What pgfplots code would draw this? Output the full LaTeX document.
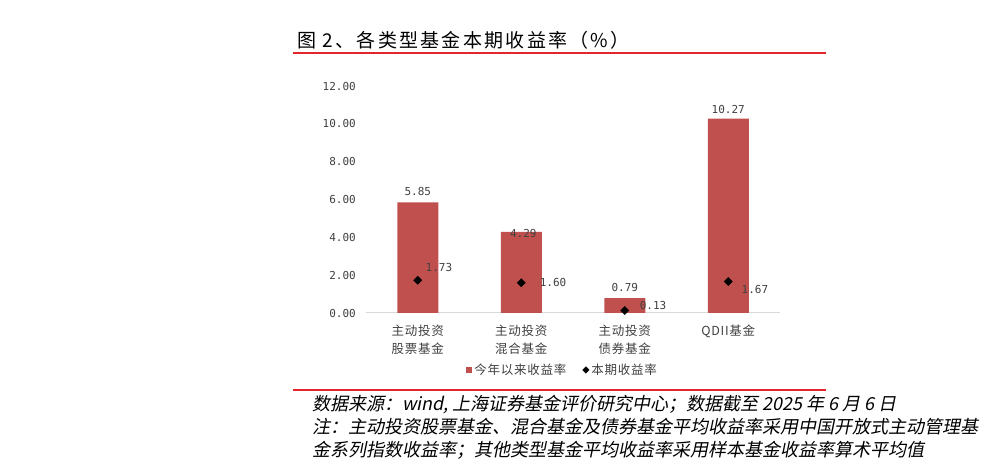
\documentclass[border=0pt]{standalone}
\usepackage{pgfplots}
\pgfplotsset{compat=1.18}
\usepackage{fontspec}
\newfontfamily\cjk{Noto Sans CJK SC}
\newfontfamily\cjksp[LetterSpace=6]{Noto Sans CJK SC}
\newfontfamily\cjktitle[LetterSpace=12]{Noto Sans CJK SC}
\newfontfamily\cjkit[FakeSlant=0.2]{Noto Sans CJK SC}
\newfontfamily\numf{DejaVu Sans Mono}
\definecolor{barred}{HTML}{C0504D}
\definecolor{txtgray}{HTML}{404040}
\definecolor{linered}{HTML}{E3262B}
\definecolor{axgray}{HTML}{D9D9D9}
\begin{document}
\begin{tikzpicture}[x=1pt,y=1pt]
\path[use as bounding box] (0,0) rectangle (991,463);
% title
\node[anchor=base west, inner sep=0pt, font=\cjktitle\fontsize{19}{22}\selectfont] at (297,415) {图 2、各类型基金本期收益率（\%）};
\draw[linered, line width=1.3pt] (293,410) -- (826,410);
\begin{axis}[
  at={(366pt,150pt)}, anchor=south west,
  scale only axis, width=414pt, height=227pt,
  xmin=-0.5, xmax=3.5, ymin=0, ymax=12,
  clip=false,
  axis x line=bottom, axis y line=left,
  x axis line style={-, draw=axgray, line width=1pt},
  y axis line style={draw=none},
  major tick length=0pt,
  ytick={0,2,4,6,8,10,12},
  xtick={0,1,2,3},
  xticklabels={{主动投资\\股票基金},{主动投资\\混合基金},{主动投资\\债券基金},{QDII基金}},
  xticklabel style={align=center, font=\cjksp\fontsize{12.5}{18}\selectfont, text=txtgray, inner sep=0pt, yshift=-11.5pt},
  yticklabel style={font=\numf\fontsize{11}{13}\selectfont, text=txtgray, anchor=east, inner sep=0pt, xshift=-10pt},
  /pgf/number format/.cd, fixed, fixed zerofill, precision=2, assume math mode=true, 1000 sep={},
  /pgfplots/.cd,
  legend style={at={(0.475,-0.251)}, anchor=center, draw=none, fill=none,
    font=\cjksp\fontsize{12.5}{15}\selectfont, text=txtgray,
    legend columns=2, /tikz/every even column/.append style={column sep=14pt},
    inner sep=0pt, nodes={inner xsep=2pt}},
  legend cell align=left,
]
\addplot[ybar, bar width=41pt, bar shift=0pt, fill=barred, draw=none,
  legend image code/.code={\fill[barred] (0pt,-3pt) rectangle (6pt,3pt);}]
  coordinates {(0,5.85) (1,4.29) (2,0.79) (3,10.27)};
\addlegendentry{今年以来收益率}
\addplot[only marks, mark=square*, mark size=2.9pt, mark options={rotate=45, fill=black, draw=black},
  legend image code/.code={\fill[black] (3pt,3.3pt) -- (6.3pt,0pt) -- (3pt,-3.3pt) -- (-0.3pt,0pt) -- cycle;}]
  coordinates {(0,1.73) (1,1.60) (2,0.13) (3,1.67)};
\addlegendentry{本期收益率}
\tikzset{lbl/.style={font=\numf\fontsize{11}{13}\selectfont, text=txtgray, inner sep=0pt}}
\node[lbl] at (axis cs:0,6.40) {5.85};
\node[lbl] at (axis cs:1.02,4.18) {4.29};
\node[lbl] at (axis cs:2.0,1.37) {0.79};
\node[lbl] at (axis cs:3.0,10.78) {10.27};
\node[lbl] at (axis cs:0.205,2.38) {1.73};
\node[lbl] at (axis cs:1.307,1.59) {1.60};
\node[lbl] at (axis cs:2.273,0.42) {0.13};
\node[lbl] at (axis cs:3.258,1.22) {1.67};
\end{axis}
\draw[linered, line width=1.1pt] (293,73) -- (826,73);
\begin{scope}[every node/.style={anchor=base west, inner sep=0pt, font=\cjkit\fontsize{18}{22}\selectfont}]
\node at (312,52) {数据来源：wind, 上海证券基金评价研究中心；数据截至 2025 年 6 月 6 日};
\node at (312,29) {注：主动投资股票基金、混合基金及债券基金平均收益率采用中国开放式主动管理基};
\node at (312,6) {金系列指数收益率；其他类型基金平均收益率采用样本基金收益率算术平均值};
\end{scope}
\end{tikzpicture}
\end{document}
